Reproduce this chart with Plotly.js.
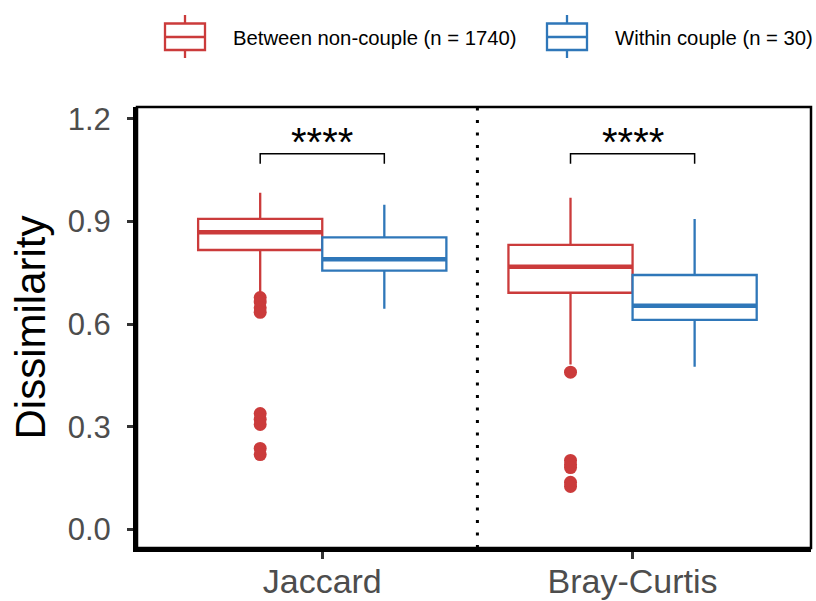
<!DOCTYPE html>
<html>
<head>
<meta charset="utf-8">
<script src="https://cdn.plot.ly/plotly-3.0.1.min.js"></script>
<style>html,body{margin:0;padding:0;background:#fff;}#chart{width:816px;height:601px;}</style>
</head>
<body>
<div id="chart"></div>
<script>
// ---------- data ----------
const categories = ['Jaccard', 'Bray-Curtis'];
const seriesNames = ['Between non-couple (n = 1740)', 'Within couple (n = 30)'];

const betweenQ1     = [0.817, 0.692];
const betweenMedian = [0.869, 0.768];
const betweenQ3     = [0.908, 0.832];
const betweenLower  = [0.685, 0.482];
const betweenUpper  = [0.984, 0.970];
const betweenOutliersJaccard = [0.678, 0.665, 0.648, 0.635, 0.339, 0.322, 0.307, 0.237, 0.219];
const betweenOutliersBray    = [0.460, 0.202, 0.190, 0.181, 0.138, 0.126];

const withinQ1     = [0.757, 0.613];
const withinMedian = [0.790, 0.654];
const withinQ3     = [0.854, 0.744];
const withinLower  = [0.645, 0.476];
const withinUpper  = [0.949, 0.908];

const sigLabels = ['****', '****'];
const yTickVals = [0.0, 0.3, 0.6, 0.9, 1.2];
const yTickText = ['0.0', '0.3', '0.6', '0.9', '1.2'];

// ---------- style ----------
const RED = '#CB3B3B';
const BLUE = '#2F77B9';
const FONT = 'Liberation Sans, Arial, Helvetica, sans-serif';
const W = 816, H = 601, ML = 137, MR = 5, MT = 107, MB = 53;
const OFF = 0.2, BW = 0.4;
const catPos = categories.map((c, i) => i);
const px = x => (x - ML) / (W - ML - MR);
const py = y => (H - MB - y) / (H - MT - MB);

function boxTrace(name, color, q1, med, q3, lo, hi, off) {
  return {
    type: 'box', name: name, showlegend: false,
    x: catPos.map(p => p + off),
    q1: q1, median: med, q3: q3, lowerfence: lo, upperfence: hi,
    width: BW, whiskerwidth: 0, boxpoints: false,
    fillcolor: '#ffffff', line: {color: color, width: 2.3},
    hoverinfo: 'skip'
  };
}
function medianTrace(color, med, off) {
  const xs = [], ys = [];
  med.forEach((m, i) => { xs.push(catPos[i] + off - BW / 2, catPos[i] + off + BW / 2, null); ys.push(m, m, null); });
  return {type: 'scatter', mode: 'lines', x: xs, y: ys, line: {color: color, width: 4.5}, showlegend: false, hoverinfo: 'skip'};
}
function outlierTrace(color, vals, pos) {
  return {type: 'scatter', mode: 'markers', x: vals.map(() => pos), y: vals,
    marker: {color: color, size: 13, line: {width: 0}}, showlegend: false, hoverinfo: 'skip'};
}

const data = [
  boxTrace(seriesNames[0], RED, betweenQ1, betweenMedian, betweenQ3, betweenLower, betweenUpper, -OFF),
  boxTrace(seriesNames[1], BLUE, withinQ1, withinMedian, withinQ3, withinLower, withinUpper, OFF),
  medianTrace(RED, betweenMedian, -OFF),
  medianTrace(BLUE, withinMedian, OFF),
  outlierTrace(RED, betweenOutliersJaccard, catPos[0] - OFF),
  outlierTrace(RED, betweenOutliersBray, catPos[1] - OFF)
];

const BR_Y = 1.098, BR_TIP = 1.069, STAR_Y = 1.132;
const shapes = [
  {type: 'rect', xref: 'paper', yref: 'paper', x0: 0, x1: 1, y0: 0, y1: 1, line: {color: '#000', width: 2.5}, layer: 'above'},
  {type: 'line', xref: 'x', yref: 'paper', x0: 0.5, x1: 0.5, y0: 0, y1: 1, line: {color: '#000', width: 3, dash: '3px,9.5px'}}
];
const annotations = [];
catPos.forEach((p, i) => {
  shapes.push({type: 'path', xref: 'x', yref: 'y',
    path: `M${p - OFF},${BR_TIP} L${p - OFF},${BR_Y} L${p + OFF},${BR_Y} L${p + OFF},${BR_TIP}`,
    line: {color: '#000', width: 1.5}});
  annotations.push({x: p, y: STAR_Y, xref: 'x', yref: 'y', text: sigLabels[i], showarrow: false,
    xanchor: 'center', yanchor: 'middle', font: {family: FONT, size: 40, color: '#000'}});
});

// custom legend (ggplot style key)
function legendKey(x0, x1, color) {
  const xc = (x0 + x1) / 2;
  shapes.push({type: 'rect', xref: 'paper', yref: 'paper', x0: px(x0), x1: px(x1), y0: py(50), y1: py(23.5), line: {color: color, width: 2.3}, fillcolor: '#fff'});
  shapes.push({type: 'line', xref: 'paper', yref: 'paper', x0: px(x0), x1: px(x1), y0: py(37), y1: py(37), line: {color: color, width: 2.3}});
  shapes.push({type: 'line', xref: 'paper', yref: 'paper', x0: px(xc), x1: px(xc), y0: py(15), y1: py(23.5), line: {color: color, width: 2.3}});
  shapes.push({type: 'line', xref: 'paper', yref: 'paper', x0: px(xc), x1: px(xc), y0: py(50), y1: py(58), line: {color: color, width: 2.3}});
}
legendKey(165, 205, RED);
legendKey(547, 587, BLUE);
annotations.push({xref: 'paper', yref: 'paper', x: px(231), y: py(38), text: seriesNames[0], showarrow: false,
  xanchor: 'left', yanchor: 'middle', font: {family: FONT, size: 20.3, color: '#000'}});
annotations.push({xref: 'paper', yref: 'paper', x: px(613), y: py(38), text: seriesNames[1], showarrow: false,
  xanchor: 'left', yanchor: 'middle', font: {family: FONT, size: 20.3, color: '#000'}});

const layout = {
  width: W, height: H,
  margin: {l: ML, r: MR, t: MT, b: MB, pad: 0},
  paper_bgcolor: '#fff', plot_bgcolor: '#fff',
  showlegend: false, boxmode: 'overlay',
  font: {family: FONT},
  xaxis: {
    range: [-0.597, 1.575], tickvals: catPos, ticktext: categories,
    showgrid: false, zeroline: false, showline: true, linecolor: '#000', linewidth: 4,
    ticks: 'outside', ticklen: 7, tickwidth: 3, tickcolor: '#333',
    ticklabelstandoff: -7,
    tickfont: {family: FONT, size: 34, color: '#4d4d4d'}
  },
  yaxis: {
    range: [-0.054, 1.235], tickvals: yTickVals, ticktext: yTickText,
    showgrid: false, zeroline: false, showline: true, linecolor: '#000', linewidth: 4,
    ticks: 'outside', ticklen: 6, tickwidth: 3, tickcolor: '#333',
    ticklabelstandoff: 10,
    tickfont: {family: FONT, size: 31, color: '#4d4d4d'},
    title: {text: 'Dissimilarity', font: {family: FONT, size: 42, color: '#000'}, standoff: 10}
  },
  shapes: shapes, annotations: annotations
};

Plotly.newPlot('chart', data, layout, {staticPlot: true, displayModeBar: false});
</script>
</body>
</html>
